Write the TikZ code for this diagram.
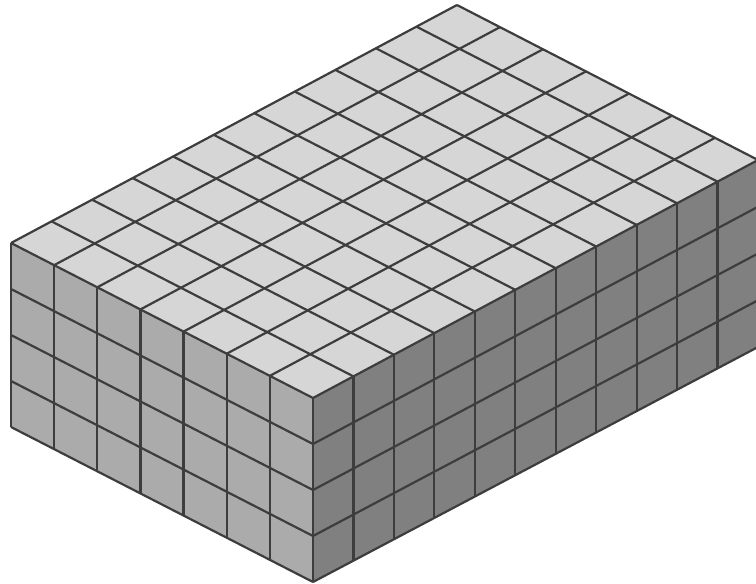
\documentclass[tikz,border=0pt]{standalone}
\usetikzlibrary{calc}
\begin{document}
\begin{tikzpicture}[
  x=1pt,y=-1pt,line width=2.2pt,line join=round,
  grid line/.style={draw=black!76},
  top face/.style={fill=black!16},
  left face/.style={fill=black!33},
  right face/.style={fill=black!50}
]
  \useasboundingbox (0,0) rectangle (756,584);
  % Corners of the box.
  \coordinate (apex) at (457,5);
  \coordinate (west) at (11,243);
  \coordinate (front) at (313,398);
  \coordinate (east) at (758,160);
  \coordinate (westlow) at (11,427);
  \coordinate (frontlow) at (313,582);
  \coordinate (eastlow) at (758,347);

  \fill[top face] (apex) -- (west) -- (front) -- (east) -- cycle;
  \fill[left face] (west) -- (front) -- (frontlow) -- (westlow) -- cycle;
  \fill[right face] (front) -- (east) -- (eastlow) -- (frontlow) -- cycle;

  % Top grid, 7 cells by 11 cells.
  \foreach \i in {0,...,7}
    \draw[grid line] ($(west)!\i/7!(front)$) -- ($(apex)!\i/7!(east)$);
  \foreach \j in {0,...,11}
    \draw[grid line] ($(west)!\j/11!(apex)$) -- ($(front)!\j/11!(east)$);

  % Left side.
  \foreach \i in {0,...,7}
    \draw[grid line] ($(west)!\i/7!(front)$) -- ($(westlow)!\i/7!(frontlow)$);
  \foreach \k in {1,...,4}
    \draw[grid line] ($(west)!\k/4!(westlow)$) -- ($(front)!\k/4!(frontlow)$);

  % Right side.
  \foreach \j in {1,...,11}
    \draw[grid line] ($(front)!\j/11!(east)$) -- ($(frontlow)!\j/11!(eastlow)$);
  \foreach \k in {1,...,4}
    \draw[grid line] ($(front)!\k/4!(frontlow)$) -- ($(east)!\k/4!(eastlow)$);
\end{tikzpicture}
\end{document}
